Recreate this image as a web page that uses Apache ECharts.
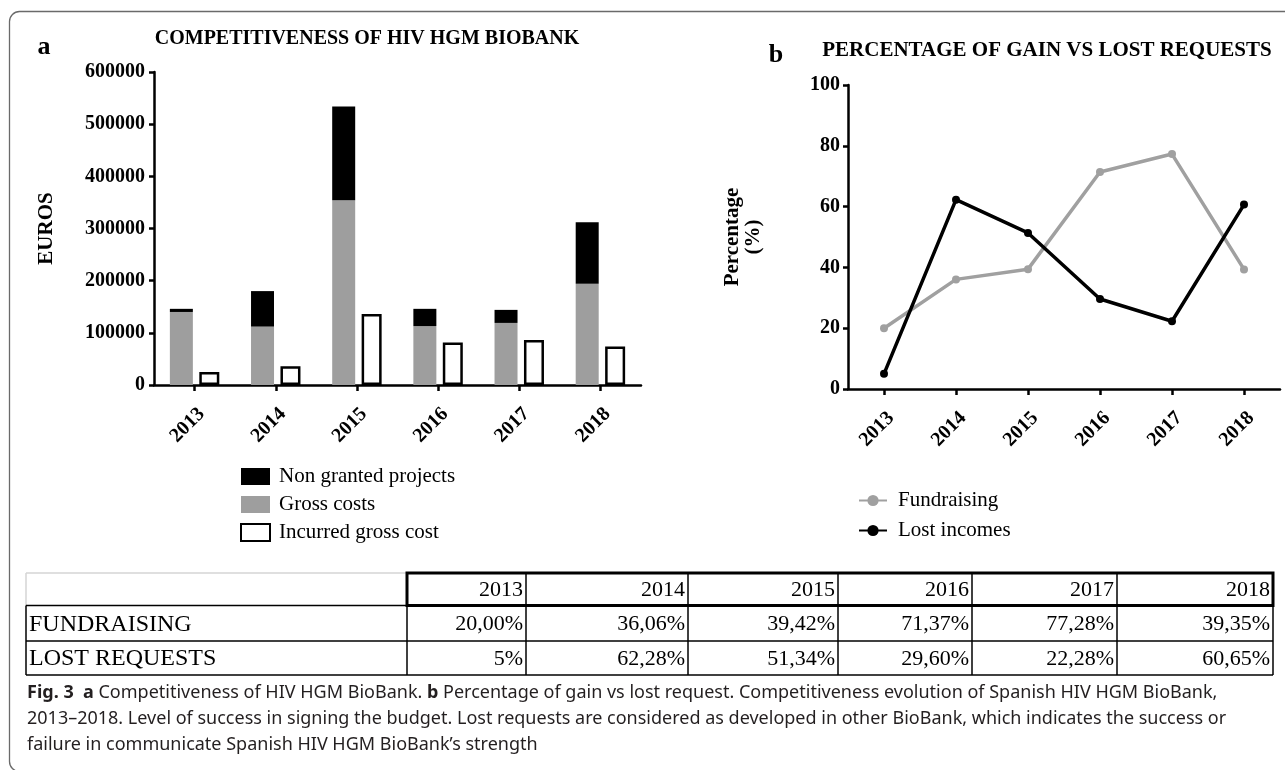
<!DOCTYPE html>
<html>
<head>
<meta charset="utf-8">
<script src="https://cdn.jsdelivr.net/npm/echarts@6/dist/echarts.min.js"></script>
<style>
  html, body { margin: 0; padding: 0; background: #fff; }
  #chart { width: 1285px; height: 770px; }
</style>
</head>
<body>
<div id="chart"></div>
<script>
// Biobank budget figures, 2013-2018
const years = ['2013', '2014', '2015', '2016', '2017', '2018'];
const grossCosts = [140000, 112000, 354000, 113000, 119000, 194000];
const nonGranted = [6000, 68000, 180000, 33000, 25000, 118000];
const incurredCost = [25000, 36000, 136000, 81500, 86500, 74000];
const euroAxis = { min: 0, max: 600000, step: 100000 };
const pctAxis = { min: 0, max: 100, step: 20 };

// Percentages as printed in the summary table
const fundraisingText = ['20,00%', '36,06%', '39,42%', '71,37%', '77,28%', '39,35%'];
const lostText = ['5%', '62,28%', '51,34%', '29,60%', '22,28%', '60,65%'];
const toNumber = s => parseFloat(s.replace('%', '').replace(',', '.'));
const fundraising = fundraisingText.map(toNumber);
const lostIncomes = lostText.map(toNumber);

const SERIF = '"Liberation Serif", "Times New Roman", serif';
const SANS = '"Noto Sans", "Open Sans", sans-serif';

const axisLine = { show: true, lineStyle: { color: '#000', width: 2.5 } };
const axisTick = { show: true, length: 6, lineStyle: { color: '#000', width: 2.5 } };
const boldLabel = { color: '#000', fontFamily: SERIF, fontWeight: 'bold', fontSize: 20 };

function xCat(gridIndex) {
  return {
    type: 'category', gridIndex, data: years, boundaryGap: true,
    axisLine, axisTick: Object.assign({ alignWithLabel: true }, axisTick),
    axisLabel: Object.assign({ rotate: 45, margin: 19, interval: 0, verticalAlign: 'top' }, boldLabel),
    splitLine: { show: false }
  };
}

// ---- summary table (graphic layer) ----
const colEdges = [26, 407, 526, 688, 838, 972, 1117, 1273];
const rowEdges = [573, 605.5, 641, 675];
const tableRows = [['FUNDRAISING', fundraisingText], ['LOST REQUESTS', lostText]];
const tableEls = [];
function line(x1, y1, x2, y2, color, w) {
  tableEls.push({ type: 'line', shape: { x1, y1, x2, y2 }, style: { stroke: color, lineWidth: w }, silent: true });
}
function cellText(txt, x, y, align, size) {
  tableEls.push({ type: 'text', x, y, silent: true,
    style: { text: txt, fill: '#000', font: size + 'px ' + SERIF, align, verticalAlign: 'middle' } });
}
// empty corner cell
line(colEdges[0], rowEdges[0], colEdges[1], rowEdges[0], '#d4d4d4', 1.5);
line(colEdges[0], rowEdges[0], colEdges[0], rowEdges[1], '#d4d4d4', 1.5);
// body grid
[1, 2, 3].forEach(r => line(colEdges[0], rowEdges[r], colEdges[7], rowEdges[r], '#000', 1.5));
colEdges.forEach(x => line(x, rowEdges[1], x, rowEdges[3], '#000', 1.5));
// header dividers
colEdges.slice(2, 7).forEach(x => line(x, rowEdges[0], x, rowEdges[1], '#000', 1.5));
// heavy frame around header years
tableEls.push({ type: 'rect', silent: true,
  shape: { x: colEdges[1], y: rowEdges[0], width: colEdges[7] - colEdges[1], height: rowEdges[1] - rowEdges[0] },
  style: { fill: 'none', stroke: '#000', lineWidth: 3 } });
years.forEach((yr, i) => cellText(yr, colEdges[i + 2] - 3, (rowEdges[0] + rowEdges[1]) / 2 + 1, 'right', 22));
tableRows.forEach(([head, vals], r) => {
  const yc = (rowEdges[r + 1] + rowEdges[r + 2]) / 2 + 1;
  cellText(head, colEdges[0] + 3, yc, 'left', 24);
  vals.forEach((v, i) => cellText(v, colEdges[i + 2] - 3, yc, 'right', 22));
});

// ---- caption ----
const captionLines = [
  '{b|Fig. 3}  {b|a} Competitiveness of HIV HGM BioBank. {b|b} Percentage of gain vs lost request. Competitiveness evolution of Spanish HIV HGM BioBank,',
  '2013\u20132018. Level of success in signing the budget. Lost requests are considered as developed in other BioBank, which indicates the success or',
  'failure in communicate Spanish HIV HGM BioBank\u2019s strength'
];
const captionEls = captionLines.map((t, i) => ({
  type: 'text', x: 27, y: 693 + i * 26, silent: true,
  style: {
    text: t, fill: '#231f20', fontFamily: SANS, fontSize: 18, verticalAlign: 'middle',
    rich: { b: { fontFamily: SANS, fontSize: 18, fontWeight: 'bold', fill: '#231f20' } }
  }
}));

const chart = echarts.init(document.getElementById('chart'), null, { renderer: 'canvas' });
chart.setOption({
  backgroundColor: '#fff',
  animation: false,
  title: [
    { text: 'COMPETITIVENESS OF HIV HGM BIOBANK', left: 362, top: 24, textAlign: 'center',
      textStyle: { fontFamily: SERIF, fontWeight: 'bold', fontSize: 20, color: '#000' } },
    { text: 'PERCENTAGE OF GAIN VS LOST REQUESTS', left: 1042, top: 35, textAlign: 'center',
      textStyle: { fontFamily: SERIF, fontWeight: 'bold', fontSize: 21, color: '#000' } }
  ],
  legend: [
    { orient: 'vertical', left: 235, top: 461, itemWidth: 29, itemHeight: 17, itemGap: 7, icon: 'rect',
      data: ['Non granted projects', 'Gross costs', 'Incurred gross cost'],
      textStyle: { fontFamily: SERIF, fontSize: 21, color: '#000', lineHeight: 20, padding: [0, 0, 0, 4] } },
    { orient: 'vertical', left: 853, top: 485, itemWidth: 28, itemHeight: 14, itemGap: 9,
      data: ['Fundraising', 'Lost incomes'],
      textStyle: { fontFamily: SERIF, fontSize: 21, color: '#000', lineHeight: 20, padding: [0, 0, 0, 6] } }
  ],
  grid: [
    { left: 154, top: 72, width: 487, height: 313, containLabel: false },
    { left: 848, top: 85, width: 432, height: 304, containLabel: false }
  ],
  xAxis: [xCat(0), xCat(1)],
  yAxis: [
    { type: 'value', gridIndex: 0, min: euroAxis.min, max: euroAxis.max, interval: euroAxis.step,
      axisLine, axisTick: { show: true, length: 5, lineStyle: { color: '#000', width: 2.5 } },
      axisLabel: Object.assign({ margin: 9, formatter: v => String(v) }, boldLabel), splitLine: { show: false },
      name: 'EUROS', nameLocation: 'middle', nameGap: 97, nameRotate: 90,
      nameTextStyle: { fontFamily: SERIF, fontWeight: 'bold', fontSize: 21, color: '#000' } },
    { type: 'value', gridIndex: 1, min: pctAxis.min, max: pctAxis.max, interval: pctAxis.step,
      axisLine, axisTick: { show: true, length: 5, lineStyle: { color: '#000', width: 2.5 } },
      axisLabel: Object.assign({ margin: 8, formatter: v => String(v) }, boldLabel), splitLine: { show: false },
      name: 'Percentage\n(%)', nameLocation: 'middle', nameGap: 84, nameRotate: 90,
      nameTextStyle: { fontFamily: SERIF, fontWeight: 'bold', fontSize: 21, color: '#000', lineHeight: 21 } }
  ],
  series: [
    { name: 'Gross costs', type: 'bar', stack: 'total', xAxisIndex: 0, yAxisIndex: 0,
      data: grossCosts, barWidth: 23, barGap: '28%', itemStyle: { color: '#9e9e9e' } },
    { name: 'Non granted projects', type: 'bar', stack: 'total', xAxisIndex: 0, yAxisIndex: 0,
      data: nonGranted, barWidth: 23, barGap: '28%', itemStyle: { color: '#000' } },
    { name: 'Incurred gross cost', type: 'bar', xAxisIndex: 0, yAxisIndex: 0,
      data: incurredCost, barWidth: 20, barGap: '28%',
      itemStyle: { color: '#fff', borderColor: '#000', borderWidth: 2.5 } },
    { name: 'Fundraising', type: 'line', xAxisIndex: 1, yAxisIndex: 1, data: fundraising,
      symbol: 'circle', symbolSize: 8, color: '#a0a0a0',
      lineStyle: { width: 3.5, color: '#a0a0a0' }, itemStyle: { color: '#a0a0a0' } },
    { name: 'Lost incomes', type: 'line', xAxisIndex: 1, yAxisIndex: 1, data: lostIncomes,
      symbol: 'circle', symbolSize: 8, color: '#000',
      lineStyle: { width: 3.5, color: '#000' }, itemStyle: { color: '#000' } }
  ],
  graphic: [
    // figure frame
    { type: 'rect', silent: true, z: 0,
      shape: { x: 9.5, y: 11.5, width: 1300, height: 760, r: 10 },
      style: { fill: 'none', stroke: '#6a6a6a', lineWidth: 1.3 } },
    { type: 'text', x: 44, y: 47, silent: true,
      style: { text: 'a', font: 'bold 26px ' + SERIF, fill: '#000', align: 'center', verticalAlign: 'middle' } },
    { type: 'text', x: 776, y: 55, silent: true,
      style: { text: 'b', font: 'bold 26px ' + SERIF, fill: '#000', align: 'center', verticalAlign: 'middle' } }
  ].concat(tableEls, captionEls)
});
</script>
</body>
</html>
